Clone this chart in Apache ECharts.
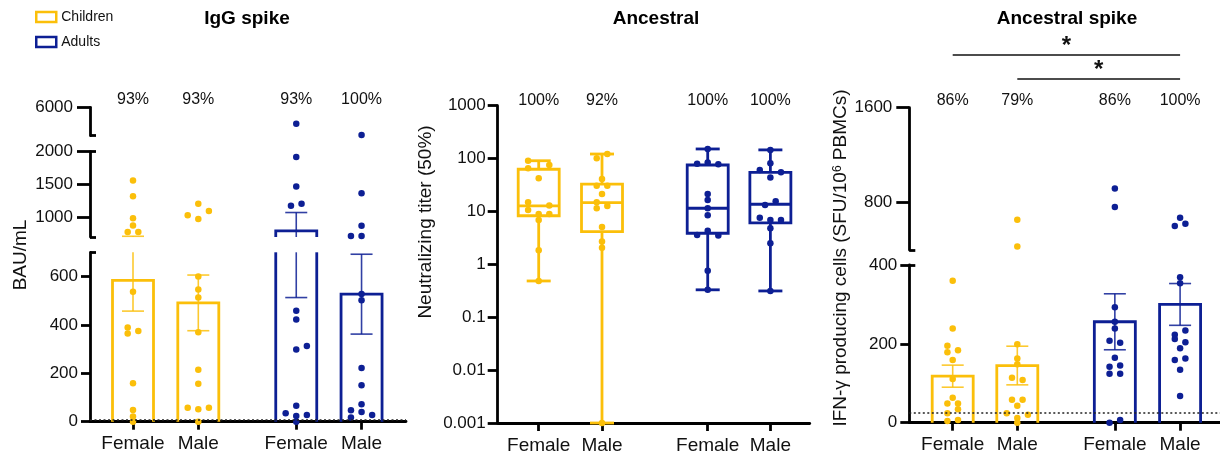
<!DOCTYPE html>
<html><head><meta charset="utf-8">
<script src="https://cdn.jsdelivr.net/npm/echarts@6/dist/echarts.min.js"></script>
<style>html,body{margin:0;padding:0;background:#fff}#c{width:1220px;height:459px}</style>
</head><body><div id="c"></div>
<script>
// ---------------- DATA ----------------
const groupLabels = ['Female', 'Male', 'Female', 'Male'];
const groupAge = ['Children', 'Children', 'Adults', 'Adults'];

// Panel 1: IgG spike (BAU/mL)
const iggChildFemale = [1560, 1320, 985, 875, 775, 775, 537, 389, 364, 375, 159, 48, 21, 0];
const iggChildMale   = [1205, 1095, 1030, 975, 600, 546, 513, 370, 215, 157, 58, 51, 58, 0];
const iggAdultFemale = [3690, 1918, 1470, 1176, 1206, 458, 422, 298, 313, 66, 35, 24, 28, 0];
const iggAdultMale   = [2100, 1368, 873, 717, 717, 528, 502, 222, 151, 72, 47, 40, 28, 17];
// beeswarm offsets (in dot steps)
const iggChildFemaleJit = [0, 0, 0, 0, -1, 1, 0, -1, -1, 1, 0, 0, 0, 0];
const iggChildMaleJit   = [0, 2, -2, 0, 0, 0, 0, 0, 0, 0, -2, 0, 2, 0];
const iggAdultFemaleJit = [0, 0, 0, -1, 1, 0, 0, 0, 2, 0, -2, 0, 2, 0];
const iggAdultMaleJit   = [0, 0, 0, -2, 0, 0, 0, 0, 0, 0, -2, 0, 2, -2];
const iggMean = [584, 491, 793, 527];
const iggSem  = [127, 115, 280, 165];
const iggPercent = ['93%', '93%', '93%', '100%'];
const iggThreshold = 10;
const iggTicksTop = [6000];
const iggTicksMid = [1000, 1500, 2000];
const iggTicksLow = [0, 200, 400, 600];

// Panel 2: Ancestral neutralizing titer (50%)
const neutChildFemale = [91, 75.7, 65.6, 42.4, 14.9, 12.9, 10.7, 9.0, 9.0, 6.9, 1.85, 0.485];
const neutChildMale   = [122, 101, 41, 30.8, 30.8, 21.4, 14.9, 12.7, 11.5, 5.1, 2.69, 2.07, 0.001];
const neutAdultFemale = [152, 84, 80, 78, 21.4, 16.5, 11.5, 8.5, 4.3, 3.6, 3.5, 0.76, 0.33];
const neutAdultMale   = [146, 81.5, 61, 55, 44, 15.6, 13.3, 7.6, 6.9, 6.9, 4.8, 2.5, 0.314];
const neutChildFemaleJit = [-2, 2, -2, 0, -2, 2, -2, 0, 2, 0, 0, 0];
const neutChildMaleJit   = [1, -1, 0, -1, 1, 0, -1, 1, -1, 0, 0, 0, 0];
const neutAdultFemaleJit = [0, 0, -2, 2, 0, 0, 0, 0, 0, -2, 2, 0, 0];
const neutAdultMaleJit   = [0, 0, -2, 2, 0, 1, -1, -2, 0, 2, 0, 0, 0];
const neutMin    = [0.485, 0.001, 0.33, 0.314];
const neutQ1     = [8.3, 4.15, 3.87, 6.1];
const neutMedian = [12.8, 14.7, 11.5, 13.7];
const neutQ3     = [62.8, 33, 75.7, 55];
const neutMax    = [91, 122, 152, 146];
const neutPercent = ['100%', '92%', '100%', '100%'];
const neutTicks = [0.001, 0.01, 0.1, 1, 10, 100, 1000];

// Panel 3: Ancestral spike IFN-gamma
const ifnChildFemale = [360, 239, 195, 184, 179, 159, 111, 63, 49, 49, 34, 24, 4, 7];
const ifnChildMale   = [655, 430, 199, 163, 148, 114, 108, 58, 58, 43, 24, 20, 12, 0];
const ifnAdultFemale = [919, 763, 293, 256, 239, 208, 203, 165, 142, 145, 124, 124, 0, 7];
const ifnAdultMale   = [672, 621, 602, 369, 354, 234, 223, 212, 204, 189, 163, 159, 134, 68];
const ifnChildFemaleJit = [0, 0, -1, 1, -1, 0, 0, 0, -1, 1, 1, -1, -1, 1];
const ifnChildMaleJit   = [0, 0, 0, 0, 0, -1, 1, -1, 1, 0, -2, 2, 0, 0];
const ifnAdultFemaleJit = [0, 0, 0, 0, 0, -1, 1, 0, -1, 1, -1, 1, -1, 1];
const ifnAdultMaleJit   = [0, 1, -1, 0, 0, 1, -1, -1, 1, 0, 1, -1, 0, 0];
const ifnMean = [118, 145, 256, 300];
const ifnSem  = [28, 49, 71, 53];
const ifnPercent = ['86%', '79%', '86%', '100%'];
const ifnThreshold = 24;
const ifnTicksTop = [800, 1600];
const ifnTicksLow = [0, 200, 400];
const ifnComparisons = [[1, 3, '*'], [0, 3, '*']];   // [from group, to group, label], by bracket level

// ---------------- STYLE / LAYOUT ----------------
const FONT = '"Liberation Sans", Arial, Helvetica, sans-serif';
const YEL = '#FBBF0A', BLU = '#0D1F94', INK = '#111';
const ageColor = { Children: YEL, Adults: BLU };
const AXW = 2.8;
const BAR_HW = 20.5, CAP_HW = 11, BOX_CAP_HW = 12, DOT = 6.5, JIT_PX = 5.3;

const P1 = { left: 90, width: 316, ppu: 65.3, xMin: 0.3415, slots: [1, 2, 3.5, 4.5], pctMargin: 0 };
const P2 = { left: 497.7, width: 312, ppu: 63.3, xMin: 0.3523, slots: [1, 2, 3.67, 4.66], pctMargin: -3 };
const P3 = { left: 909.3, width: 310.7, ppu: 64.6, xMin: 0.3282, slots: [1, 2, 3.51, 4.52], pctMargin: -1 };

const P1segs = [
  { min: 0, max: 700, top: 252.3, bottom: 421.7, ticks: iggTicksLow, stubs: [700], tickLen: 9, margin: 12 },
  { min: 700, max: 2000, top: 151.7, bottom: 237, ticks: iggTicksMid, stubs: [700, 2000], tickLen: 13, margin: 17 },
  { min: 2000, max: 6000, top: 107.3, bottom: 135.7, ticks: iggTicksTop, stubs: [2000], tickLen: 13, margin: 17 }
];
const P2segs = [
  { min: 0.001, max: 1000, top: 105.7, bottom: 423, ticks: neutTicks, log: true, tickLen: 10, margin: 12 }
];
const P3segs = [
  { min: 0, max: 400, top: 265, bottom: 422.7, ticks: ifnTicksLow, stubs: [400], tickLen: 9, margin: 12 },
  { min: 400, max: 1600, top: 107.7, bottom: 250, ticks: ifnTicksTop, stubs: [400], tickLen: 13, margin: 17 }
];
const BRACKET_BASE = 1842, BRACKET_STEP = 203;

// ---------------- BUILD ----------------
const grids = [], xAxis = [], yAxis = [], series = [];

function slotFmt(slots, labels) {
  return function (v) {
    for (let i = 0; i < slots.length; i++) if (Math.abs(v - slots[i]) < 1e-6) return labels[i];
    return '';
  };
}
function yFmt(v) {
  if (v > 0 && v < 1) { const n = Math.min(10, Math.max(0, Math.round(-Math.log10(v)))); return v.toFixed(n); }
  return String(Math.round(v));
}

function makeCell(panel, seg, o) {
  const gi = grids.length;
  grids.push({ left: panel.left, top: seg.top, width: panel.width, height: seg.bottom - seg.top,
    containLabel: false, outerBoundsMode: 'none' });
  const xMax = panel.xMin + panel.width / panel.ppu;
  const xi = xAxis.length;
  xAxis.push({
    type: 'value', gridIndex: gi, position: 'bottom', min: panel.xMin, max: xMax, show: !!o.bottom,
    axisLine: { show: true, onZero: false, lineStyle: { color: '#000', width: AXW } },
    axisTick: { show: true, customValues: panel.slots, length: 8, lineStyle: { color: '#000', width: AXW } },
    axisLabel: { show: true, customValues: panel.slots, formatter: slotFmt(panel.slots, groupLabels),
      fontSize: 19, color: INK, fontFamily: FONT, margin: 13 },
    splitLine: { show: false }
  });
  if (o.pct) {
    xAxis.push({
      type: 'value', gridIndex: gi, position: 'top', min: panel.xMin, max: xMax,
      axisLine: { show: false }, axisTick: { show: false }, splitLine: { show: false },
      axisLabel: { show: true, customValues: panel.slots, formatter: slotFmt(panel.slots, o.pct),
        fontSize: 16, color: INK, fontFamily: FONT, margin: panel.pctMargin }
    });
  }
  const yi = yAxis.length;
  const y = {
    type: seg.log ? 'log' : 'value', gridIndex: gi, position: 'left', min: seg.min, max: seg.max,
    axisLine: { show: true, onZero: false, lineStyle: { color: '#000', width: AXW } },
    axisTick: { show: true, length: seg.tickLen, lineStyle: { color: '#000', width: AXW } },
    axisLabel: { show: true, formatter: yFmt, fontSize: 17, color: INK, fontFamily: FONT, margin: seg.margin },
    splitLine: { show: false }, minorTick: { show: false }
  };
  if (seg.log) { y.logBase = 10; }
  else { y.axisTick.customValues = seg.ticks; y.axisLabel.customValues = seg.ticks; }
  yAxis.push(y);
  if (seg.stubs) {
    yAxis.push({
      type: 'value', gridIndex: gi, position: 'left', min: seg.min, max: seg.max,
      axisLine: { show: false }, axisLabel: { show: false }, splitLine: { show: false },
      axisTick: { show: true, inside: true, length: 6, customValues: seg.stubs, lineStyle: { color: '#000', width: AXW } }
    });
  }
  return { gi: gi, xi: xi, yi: yi };
}

function segIndexOf(segs, v) {
  for (let s = 0; s < segs.length; s++) if (v <= segs[s].max) return s;
  return segs.length - 1;
}

function addPoints(cell, panel, segs, sIdx, groups) {
  const step = JIT_PX / panel.ppu;
  ['Children', 'Adults'].forEach(function (age) {
    const data = [];
    groups.forEach(function (g, i) {
      if (groupAge[i] !== age) return;
      g.vals.forEach(function (v, k) {
        if (segIndexOf(segs, v) === sIdx) data.push([panel.slots[i] + g.jit[k] * step, v]);
      });
    });
    series.push({
      type: 'scatter', name: age, xAxisIndex: cell.xi, yAxisIndex: cell.yi, data: data,
      symbol: 'circle', symbolSize: DOT, clip: false, z: 4, silent: true,
      itemStyle: { color: ageColor[age], opacity: 1 }
    });
  });
}

function barRenderer(seg) {
  return function (params, api) {
    const x = api.value(0), m = api.value(1), e = api.value(2), g = api.value(3);
    const c = ageColor[groupAge[g]];
    const kids = [];
    const st = { stroke: c, fill: null, lineWidth: AXW, lineJoin: 'miter' };
    if (m > seg.min) {
      const lo = Math.max(0, seg.min), hi = Math.min(m, seg.max);
      const pLo = api.coord([x, lo]), pHi = api.coord([x, hi]);
      const xl = pLo[0] - BAR_HW, xr = pLo[0] + BAR_HW;
      if (m <= seg.max) {
        kids.push({ type: 'polyline', shape: { points: [[xl, pLo[1]], [xl, pHi[1]], [xr, pHi[1]], [xr, pLo[1]]] }, style: st });
      } else {
        kids.push({ type: 'line', shape: { x1: xl, y1: pLo[1], x2: xl, y2: pHi[1] }, style: st });
        kids.push({ type: 'line', shape: { x1: xr, y1: pLo[1], x2: xr, y2: pHi[1] }, style: st });
      }
    }
    const el = m - e, eh = m + e;
    const a = Math.max(el, seg.min), b = Math.min(eh, seg.max);
    const es = { stroke: c, lineWidth: 1.6, opacity: 0.85 };
    if (a < b) {
      const pa = api.coord([x, a]), pb = api.coord([x, b]);
      kids.push({ type: 'line', shape: { x1: pa[0], y1: pa[1], x2: pb[0], y2: pb[1] }, style: es });
    }
    [el, eh].forEach(function (v) {
      if (v >= seg.min && v <= seg.max) {
        const p = api.coord([x, v]);
        kids.push({ type: 'line', shape: { x1: p[0] - CAP_HW, y1: p[1], x2: p[0] + CAP_HW, y2: p[1] }, style: es });
      }
    });
    return { type: 'group', children: kids };
  };
}

function boxRenderer(params, api) {
  const x = api.value(0), mn = api.value(1), q1 = api.value(2), md = api.value(3), q3 = api.value(4), mx = api.value(5), g = api.value(6);
  const c = ageColor[groupAge[g]];
  const pMin = api.coord([x, mn]), pQ1 = api.coord([x, q1]), pMd = api.coord([x, md]), pQ3 = api.coord([x, q3]), pMax = api.coord([x, mx]);
  const cx = pMd[0];
  const st = { stroke: c, fill: null, lineWidth: AXW };
  return { type: 'group', children: [
    { type: 'line', shape: { x1: cx, y1: pQ3[1], x2: cx, y2: pMax[1] }, style: st },
    { type: 'line', shape: { x1: cx, y1: pQ1[1], x2: cx, y2: pMin[1] }, style: st },
    { type: 'line', shape: { x1: cx - BOX_CAP_HW, y1: pMax[1], x2: cx + BOX_CAP_HW, y2: pMax[1] }, style: st },
    { type: 'line', shape: { x1: cx - BOX_CAP_HW, y1: pMin[1], x2: cx + BOX_CAP_HW, y2: pMin[1] }, style: st },
    { type: 'rect', shape: { x: cx - BAR_HW, y: pQ3[1], width: 2 * BAR_HW, height: pQ1[1] - pQ3[1] }, style: st },
    { type: 'line', shape: { x1: cx - BAR_HW, y1: pMd[1], x2: cx + BAR_HW, y2: pMd[1] }, style: st }
  ] };
}

function threshold(v) {
  return { silent: true, symbol: ['none', 'none'], label: { show: false },
    lineStyle: { type: [2, 2.5], color: '#222', width: 1.5 }, data: [{ yAxis: v }] };
}

// ---- Panel 1
const iggGroups = [
  { vals: iggChildFemale, jit: iggChildFemaleJit }, { vals: iggChildMale, jit: iggChildMaleJit },
  { vals: iggAdultFemale, jit: iggAdultFemaleJit }, { vals: iggAdultMale, jit: iggAdultMaleJit }
];
P1segs.forEach(function (seg, s) {
  const cell = makeCell(P1, seg, { bottom: s === 0, pct: s === P1segs.length - 1 ? iggPercent : null });
  series.push({ type: 'custom', xAxisIndex: cell.xi, yAxisIndex: cell.yi, clip: false, z: 2, silent: true,
    data: groupLabels.map(function (_, i) { return [P1.slots[i], iggMean[i], iggSem[i], i]; }),
    encode: { x: 0, y: 1 }, renderItem: barRenderer(seg) });
  addPoints(cell, P1, P1segs, s, iggGroups);
  if (s === 0) series[series.length - 1].markLine = threshold(iggThreshold);
});

// ---- Panel 2
const neutGroups = [
  { vals: neutChildFemale, jit: neutChildFemaleJit }, { vals: neutChildMale, jit: neutChildMaleJit },
  { vals: neutAdultFemale, jit: neutAdultFemaleJit }, { vals: neutAdultMale, jit: neutAdultMaleJit }
];
(function () {
  const cell = makeCell(P2, P2segs[0], { bottom: true, pct: neutPercent });
  series.push({ type: 'custom', xAxisIndex: cell.xi, yAxisIndex: cell.yi, clip: false, z: 2, silent: true,
    data: groupLabels.map(function (_, i) { return [P2.slots[i], neutMin[i], neutQ1[i], neutMedian[i], neutQ3[i], neutMax[i], i]; }),
    encode: { x: 0, y: [1, 2, 3, 4, 5] }, renderItem: boxRenderer });
  addPoints(cell, P2, P2segs, 0, neutGroups);
})();

// ---- Panel 3
const ifnGroups = [
  { vals: ifnChildFemale, jit: ifnChildFemaleJit }, { vals: ifnChildMale, jit: ifnChildMaleJit },
  { vals: ifnAdultFemale, jit: ifnAdultFemaleJit }, { vals: ifnAdultMale, jit: ifnAdultMaleJit }
];
P3segs.forEach(function (seg, s) {
  const isTop = s === P3segs.length - 1;
  const cell = makeCell(P3, seg, { bottom: s === 0, pct: isTop ? ifnPercent : null });
  series.push({ type: 'custom', xAxisIndex: cell.xi, yAxisIndex: cell.yi, clip: false, z: 2, silent: true,
    data: groupLabels.map(function (_, i) { return [P3.slots[i], ifnMean[i], ifnSem[i], i]; }),
    encode: { x: 0, y: 1 }, renderItem: barRenderer(seg) });
  addPoints(cell, P3, P3segs, s, ifnGroups);
  if (s === 0) series[series.length - 1].markLine = threshold(ifnThreshold);
  if (isTop) {
    series.push({ type: 'custom', xAxisIndex: cell.xi, yAxisIndex: cell.yi, clip: false, z: 5, silent: true,
      data: ifnComparisons.map(function (c, lvl) {
        return [P3.slots[c[0]], BRACKET_BASE + lvl * BRACKET_STEP, P3.slots[c[1]], lvl];
      }),
      encode: { x: 0, y: 1 },
      renderItem: function (params, api) {
        const a = api.coord([api.value(0), api.value(1)]);
        const b = api.coord([api.value(2), api.value(1)]);
        const lbl = ifnComparisons[api.value(3)][2];
        return { type: 'group', children: [
          { type: 'line', shape: { x1: a[0], y1: a[1], x2: b[0], y2: b[1] }, style: { stroke: '#111', lineWidth: 1.6 } },
          { type: 'text', x: (a[0] + b[0]) / 2, y: a[1] + 3,
            style: { text: lbl, font: 'bold 24px ' + FONT, fill: '#111', align: 'center', verticalAlign: 'bottom' } }
        ] };
      }
    });
  }
});

const option = {
  animation: false,
  backgroundColor: '#fff',
  textStyle: { fontFamily: FONT },
  grid: grids, xAxis: xAxis, yAxis: yAxis, series: series,
  legend: {
    orient: 'vertical', left: 30, top: 5, itemWidth: 20, itemHeight: 10, itemGap: 11, selectedMode: false,
    textStyle: { fontSize: 14, color: INK, fontFamily: FONT },
    data: [
      { name: 'Children', icon: 'rect', itemStyle: { color: 'rgba(0,0,0,0)', borderColor: YEL, borderWidth: 2.5 } },
      { name: 'Adults', icon: 'rect', itemStyle: { color: 'rgba(0,0,0,0)', borderColor: BLU, borderWidth: 2.5 } }
    ]
  },
  graphic: [
    { type: 'text', x: 247, y: 19, style: { text: 'IgG spike', font: 'bold 19px ' + FONT, fill: '#000', align: 'center', verticalAlign: 'middle' } },
    { type: 'text', x: 656, y: 19, style: { text: 'Ancestral', font: 'bold 19px ' + FONT, fill: '#000', align: 'center', verticalAlign: 'middle' } },
    { type: 'text', x: 1067, y: 19, style: { text: 'Ancestral spike', font: 'bold 19px ' + FONT, fill: '#000', align: 'center', verticalAlign: 'middle' } },
    { type: 'text', x: 20.5, y: 255, rotation: Math.PI / 2,
      style: { text: 'BAU/mL', font: '19px ' + FONT, fill: INK, align: 'center', verticalAlign: 'middle' } },
    { type: 'text', x: 426, y: 222, rotation: Math.PI / 2,
      style: { text: 'Neutralizing titer (50%)', font: '19px ' + FONT, fill: INK, align: 'center', verticalAlign: 'middle' } },
    { type: 'text', x: 841, y: 258, rotation: Math.PI / 2,
      style: { text: 'IFN-γ producing cells (SFU/10{sup|6} PBMCs)', font: '19px ' + FONT, fill: INK, align: 'center', verticalAlign: 'middle',
        rich: { sup: { font: '12px ' + FONT, verticalAlign: 'top', fill: INK } } } }
  ]
};

const chart = echarts.init(document.getElementById('c'), null, { renderer: 'canvas' });
chart.setOption(option);
</script>
</body></html>
